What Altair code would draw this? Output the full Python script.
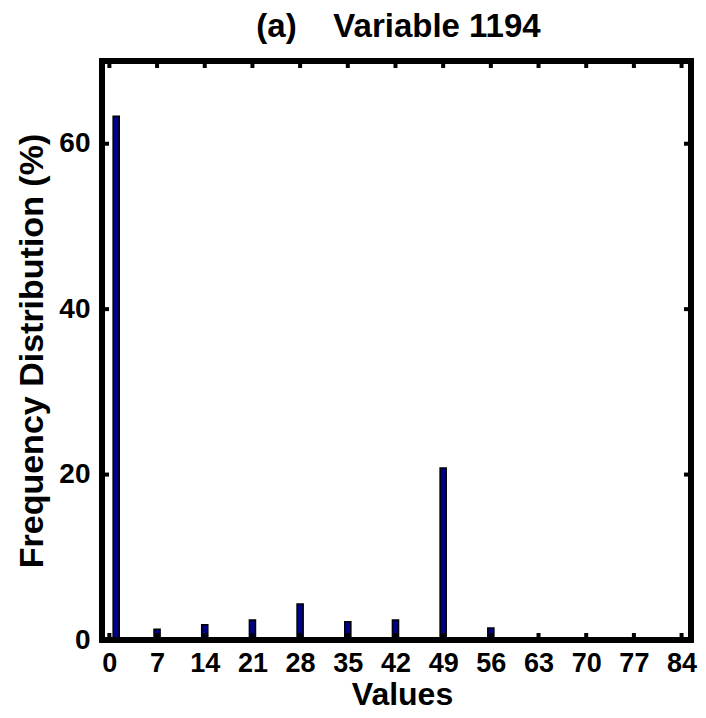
import altair as alt
import pandas as pd

# Data
bar_values = [1, 7, 14, 21, 28, 35, 42, 49, 56]
bar_freqs = [63.3, 1.3, 1.85, 2.4, 4.35, 2.2, 2.4, 20.8, 1.45]
x_ticks = [0, 7, 14, 21, 28, 35, 42, 49, 56, 63, 70, 77, 84]
y_ticks = [0, 20, 40, 60]
title_text = ["(a)\u00a0\u00a0\u00a0\u00a0Variable 1194"]

W, H = 589, 579
FONT = "Liberation Sans"

bars_df = pd.DataFrame({"value": bar_values, "freq": bar_freqs})
xt_df = pd.DataFrame({"t": x_ticks})
yt_df = pd.DataFrame({"t": y_ticks})
title_df = pd.DataFrame({"label": title_text})

xscale = alt.Scale(domain=[-0.35, 84.65], nice=False, zero=False)
yscale = alt.Scale(domain=[0, 70], nice=False)

bars = alt.Chart(bars_df).mark_bar(
    size=6, color="#00008F", stroke="black", strokeWidth=1.6
).encode(
    x=alt.X("value:Q", scale=xscale,
            axis=alt.Axis(values=x_ticks, title="Values", labelPadding=10,
                          labelBaseline="top", labelFontSize=27,
                          titleX=300, titleY=64,
                          titleBaseline="alphabetic", titleAlign="center",
                          titleFontSize=32)),
    y=alt.Y("freq:Q", scale=yscale,
            axis=alt.Axis(values=y_ticks, title="Frequency Distribution (%)",
                          labelPadding=12, titleX=-60, titleY=H / 2,
                          titleAngle=270, titleBaseline="alphabetic",
                          titleAlign="center", titleFontSize=34)),
)

tick_len = 7
tb = alt.Chart(xt_df).mark_rule(color="black", strokeWidth=4).encode(
    x=alt.X("t:Q", scale=xscale), y=alt.value(H), y2=alt.value(H - tick_len))
tt = alt.Chart(xt_df).mark_rule(color="black", strokeWidth=4).encode(
    x=alt.X("t:Q", scale=xscale), y=alt.value(0), y2=alt.value(tick_len))
tl = alt.Chart(yt_df).mark_rule(color="black", strokeWidth=4).encode(
    y=alt.Y("t:Q", scale=yscale), x=alt.value(0), x2=alt.value(tick_len))
tr = alt.Chart(yt_df).mark_rule(color="black", strokeWidth=4).encode(
    y=alt.Y("t:Q", scale=yscale), x=alt.value(W), x2=alt.value(W - tick_len))

frame = alt.Chart(bars_df).mark_rect(
    fill=None, stroke="black", strokeWidth=5, filled=False
).encode(x=alt.value(0), x2=alt.value(W), y=alt.value(0), y2=alt.value(H))

title = alt.Chart(title_df).mark_text(
    font=FONT, fontSize=33, fontWeight="bold", color="black",
    align="center", baseline="alphabetic"
).encode(x=alt.value(W / 2 + 2), y=alt.value(-24), text="label:N")

chart = alt.layer(bars, tb, tt, tl, tr, frame, title).properties(
    width=W, height=H,
    autosize=alt.AutoSizeParams(type="none"),
    padding={"left": 94, "top": 53, "right": 7, "bottom": 70},
).configure_view(stroke=None).configure_axis(
    domain=False, ticks=False, tickSize=0, grid=False,
    labelFont=FONT, labelFontSize=28, labelFontWeight="bold", labelColor="black",
    titleFont=FONT, titleFontSize=33, titleFontWeight="bold", titleColor="black",
)

chart.save("out.html", embed_options={"renderer": "svg", "actions": False})
